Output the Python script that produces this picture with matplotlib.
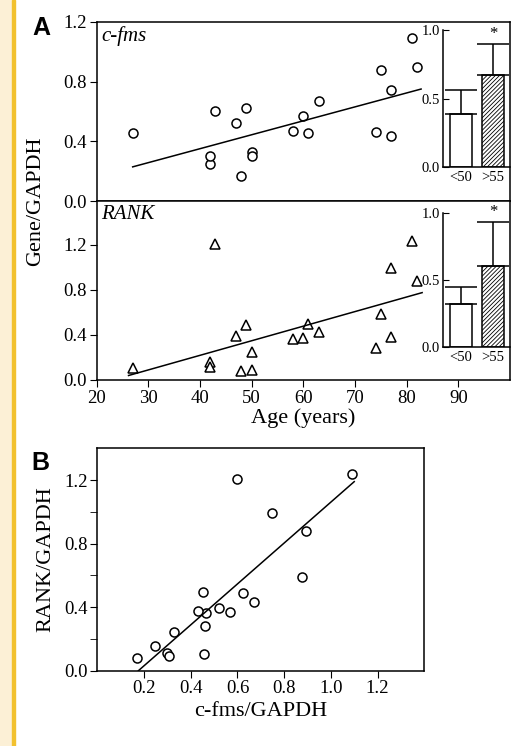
import matplotlib.pyplot as plt
import numpy as np
from matplotlib.patches import Rectangle

plt.rcParams['font.family'] = ['Liberation Serif', 'DejaVu Serif']
plt.rcParams['hatch.linewidth'] = 0.6
plt.rcParams['axes.linewidth'] = 1.1

# per patient values
age = np.array([27, 42, 42, 43, 47, 48, 49, 50, 50, 58, 60, 61, 63, 74, 75, 77, 77, 81, 82])
cfms = np.array([0.455, 0.245, 0.30, 0.60, 0.52, 0.17, 0.625, 0.33, 0.305, 0.467,
                 0.57, 0.453, 0.67, 0.462, 0.875, 0.433, 0.747, 1.09, 0.895])
rank = np.array([0.104, 0.157, 0.113, 1.205, 0.394, 0.083, 0.49, 0.246, 0.09, 0.365,
                 0.372, 0.495, 0.43, 0.28, 0.59, 0.378, 0.993, 1.238, 0.879])

# regression lines as printed: slope, intercept, x from, x to
fit_cfms = [0.00935, -0.0236, 27, 82.8]
fit_rank = [0.01296, -0.2996, 26.2, 83]
fit_b = [1.288, -0.2267, 0.176, 1.10]

groups = ['<50', '>55']
cfms_mean = [0.39, 0.67]
cfms_err = [0.17, 0.23]
rank_mean = [0.32, 0.605]
rank_err = [0.125, 0.33]

W, H = 516, 746
fig = plt.figure(figsize=(W / 100, H / 100), dpi=100)

def box(l, t, r, b):
    return [l / W, 1 - b / H, (r - l) / W, (b - t) / H]

# page margin strip on the left
fig.patches.append(Rectangle((0, 0), 12 / W, 1, transform=fig.transFigure,
                             color='#fcf0d6', zorder=0))
fig.patches.append(Rectangle((12 / W, 0), 2.5 / W, 1, transform=fig.transFigure,
                             color='#f2c12e', zorder=0))

tick_fs = 13.5
lab_fs = 16

def fit_line(ax, fit):
    k, b, x0, x1 = fit
    xx = np.array([x0, x1])
    ax.plot(xx, k * xx + b, color='black', lw=1.1)

def scatter_panel(ax, y, marker, ylim, label, fit):
    ax.plot(age, y, linestyle='none', marker=marker, mfc='white', mec='black',
            ms=6.5 if marker == 'o' else 7, mew=1.1)
    fit_line(ax, fit)
    ax.set_xlim(20, 100)
    ax.set_ylim(*ylim)
    ax.set_yticks([0, 0.4, 0.8, 1.2])
    ax.set_yticklabels(['0.0', '0.4', '0.8', '1.2'])
    ax.tick_params(axis='y', direction='out', length=5, labelsize=tick_fs, pad=2)
    ax.text(0.012, 0.975, label, transform=ax.transAxes, style='italic',
            fontsize=15, va='top', ha='left')

def inset_bars(ax, mean, err):
    x = np.arange(2)
    ax.bar(x, mean, width=0.69, color=['white', 'white'], edgecolor='black',
           hatch=['', '////////'], lw=1.1, zorder=2)
    ax.errorbar(x, mean, yerr=[[0, 0], err], fmt='none', ecolor='black',
                elinewidth=1.1, capsize=11.5, capthick=1.1, zorder=3)
    ax.text(1, mean[1] + err[1] + 0.01, '*', ha='center', va='bottom', fontsize=12)
    ax.set_xlim(-0.5625, 1.53)
    ax.set_ylim(0, 1.0)
    ax.set_yticks([0, 0.5, 1.0])
    ax.set_yticklabels(['0.0', '0.5', '1.0'])
    ax.set_xticks(x)
    ax.set_xticklabels(groups)
    ax.tick_params(axis='y', direction='in', length=4, labelsize=10.5, pad=2)
    ax.tick_params(axis='x', length=0, labelsize=10.5, pad=3)
    ax.spines['top'].set_visible(False)
    ax.spines['right'].set_visible(False)
    ax.patch.set_alpha(0)

# panel A, c-fms
axA1 = fig.add_axes(box(96.5, 22, 510, 201))
scatter_panel(axA1, cfms, 'o', (0, 1.2), 'c-fms', fit_cfms)
axA1.set_xticks([])

# panel A, RANK
axA2 = fig.add_axes(box(96.5, 201, 510, 380))
scatter_panel(axA2, rank, '^', (0, 1.59), 'RANK', fit_rank)
axA2.set_xticks(range(20, 100, 10))
axA2.tick_params(axis='x', direction='out', length=5, labelsize=tick_fs, pad=2)
axA2.set_xlabel('Age (years)', fontsize=lab_fs, labelpad=1)

fig.text(36 / W, 1 - 201 / H, 'Gene/GAPDH', rotation=90, fontsize=lab_fs,
         ha='center', va='center')

ins1 = fig.add_axes(box(443, 30, 510, 167))
inset_bars(ins1, cfms_mean, cfms_err)
ins2 = fig.add_axes(box(443, 213, 510, 347))
inset_bars(ins2, rank_mean, rank_err)

# panel B
axB = fig.add_axes(box(97.3, 448.3, 424.3, 670.7))
axB.plot(cfms, rank, linestyle='none', marker='o', mfc='white', mec='black',
         ms=6.5, mew=1.1)
fit_line(axB, fit_b)
axB.set_xlim(0, 1.4)
axB.set_ylim(0, 1.4)
axB.set_xticks([0.2, 0.4, 0.6, 0.8, 1.0, 1.2])
axB.set_xticklabels(['0.2', '0.4', '0.6', '0.8', '1.0', '1.2'])
axB.set_yticks([0, 0.4, 0.8, 1.2])
axB.set_yticklabels(['0.0', '0.4', '0.8', '1.2'])
axB.set_yticks([0.2, 0.6, 1.0], minor=True)
axB.tick_params(axis='both', which='both', direction='out', length=5,
                labelsize=tick_fs, pad=2)
axB.set_xlabel('c-fms/GAPDH', fontsize=lab_fs, labelpad=3)
axB.set_ylabel('RANK/GAPDH', fontsize=lab_fs, labelpad=6)

fig.text(32 / W, 1 - 35 / H, 'A', fontsize=18, fontweight='bold',
         family='Liberation Sans', ha='left', va='baseline')
fig.text(31 / W, 1 - 470.5 / H, 'B', fontsize=18, fontweight='bold',
         family='Liberation Sans', ha='left', va='baseline')

fig.savefig('out.png', dpi=100)
